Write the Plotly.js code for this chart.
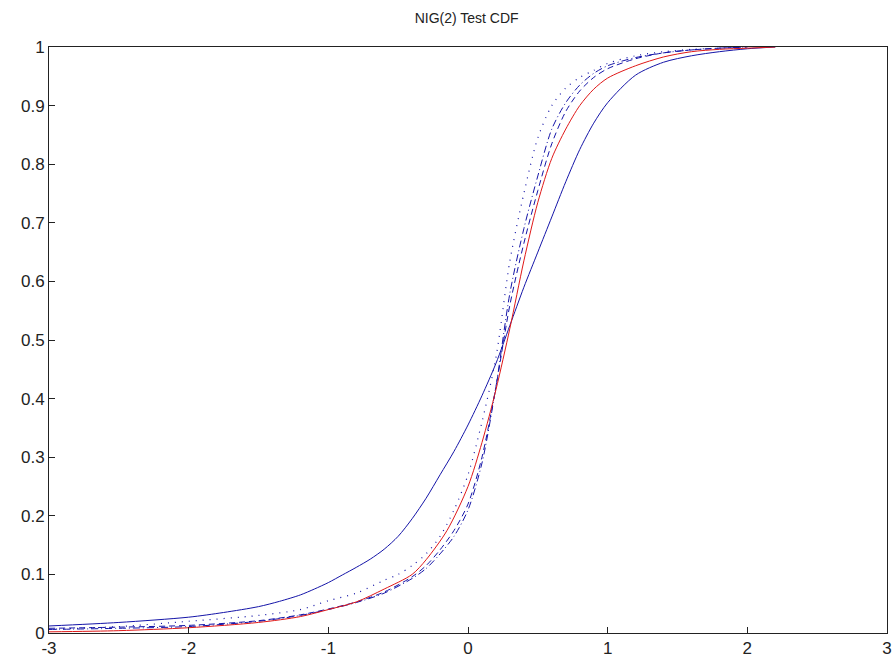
<!DOCTYPE html>
<html>
<head>
<meta charset="utf-8">
<script src="https://cdn.plot.ly/plotly-3.0.1.min.js"></script>
<style>html,body{margin:0;padding:0;background:#fff;}#chart{width:894px;height:666px;}</style>
</head>
<body>
<div id="chart"></div>
<script>
// Blue solid (widest CDF)
const xSolid = [-3, -2.5, -2, -1.75, -1.5, -1.35, -1.2, -1.1, -1, -0.9, -0.8, -0.7, -0.6, -0.5, -0.4, -0.3, -0.2, -0.1, 0, 0.1, 0.2, 0.3, 0.4, 0.5, 0.6, 0.7, 0.8, 0.9, 1.0, 1.2, 1.4, 1.6, 1.8, 2.0, 2.2];
const ySolid = [0.012, 0.018, 0.027, 0.035, 0.045, 0.054, 0.065, 0.075, 0.086, 0.099, 0.112, 0.126, 0.143, 0.165, 0.195, 0.23, 0.27, 0.31, 0.355, 0.405, 0.46, 0.525, 0.59, 0.65, 0.71, 0.77, 0.825, 0.87, 0.905, 0.952, 0.974, 0.985, 0.992, 0.997, 1.0];

// Red solid
const xRed = [-3, -2.5, -2, -1.5, -1.2, -1, -0.8, -0.6, -0.4, -0.3, -0.15, 0, 0.1, 0.2, 0.3, 0.4, 0.5, 0.6, 0.7, 0.8, 0.9, 1.0, 1.2, 1.4, 1.6, 1.8, 2.0, 2.2];
const yRed = [0.002, 0.004, 0.009, 0.018, 0.028, 0.04, 0.053, 0.075, 0.10, 0.125, 0.175, 0.25, 0.325, 0.415, 0.52, 0.635, 0.735, 0.81, 0.86, 0.9, 0.928, 0.947, 0.968, 0.983, 0.992, 0.996, 0.998, 1.0];

// Blue dotted
const xDot = [-3, -2.5, -2, -1.5, -1.2, -1, -0.8, -0.6, -0.5, -0.4, -0.3, -0.2, -0.1, 0, 0.1, 0.2, 0.3, 0.4, 0.5, 0.6, 0.7, 0.8, 0.9, 1.0, 1.2, 1.4, 1.6, 1.8, 2.0];
const yDot = [0.006, 0.011, 0.02, 0.03, 0.04, 0.055, 0.068, 0.09, 0.10, 0.115, 0.135, 0.165, 0.21, 0.27, 0.36, 0.47, 0.635, 0.75, 0.845, 0.9, 0.93, 0.948, 0.96, 0.972, 0.985, 0.992, 0.996, 0.998, 1.0];

// Blue dash-dot
const xDashDot = [-3, -2.5, -2, -1.5, -1.2, -1, -0.8, -0.6, -0.4, -0.3, -0.2, -0.1, 0, 0.1, 0.2, 0.3, 0.4, 0.5, 0.6, 0.7, 0.8, 0.9, 1.0, 1.2, 1.4, 1.6, 1.8, 2.0];
const yDashDot = [0.006, 0.008, 0.011, 0.02, 0.03, 0.04, 0.052, 0.068, 0.093, 0.11, 0.135, 0.165, 0.21, 0.29, 0.42, 0.58, 0.69, 0.78, 0.86, 0.905, 0.935, 0.955, 0.968, 0.982, 0.99, 0.995, 0.998, 1.0];

// Blue dashed
const xDash = [-3, -2.5, -2, -1.5, -1.2, -1, -0.8, -0.6, -0.4, -0.3, -0.2, -0.1, 0, 0.1, 0.2, 0.3, 0.4, 0.5, 0.6, 0.7, 0.8, 0.9, 1.0, 1.2, 1.4, 1.6, 1.8, 2.0];
const yDash = [0.008, 0.01, 0.013, 0.021, 0.031, 0.041, 0.053, 0.07, 0.096, 0.115, 0.142, 0.175, 0.22, 0.30, 0.42, 0.56, 0.665, 0.755, 0.835, 0.89, 0.925, 0.948, 0.963, 0.98, 0.99, 0.995, 0.998, 1.0];

const xTicks = [-3, -2, -1, 0, 1, 2, 3];
const yTicks = [0, 0.1, 0.2, 0.3, 0.4, 0.5, 0.6, 0.7, 0.8, 0.9, 1];

const blue = '#1414a8';
const red = '#e01818';

const traces = [
  {x: xSolid, y: ySolid, mode: 'lines', line: {color: blue, width: 1, shape: 'spline', smoothing: 0.8}},
  {x: xDot, y: yDot, mode: 'lines', line: {color: blue, width: 1.2, dash: '1px,6px', shape: 'spline', smoothing: 0.8}},
  {x: xDashDot, y: yDashDot, mode: 'lines', line: {color: blue, width: 1, dash: '7px,3px,1px,3px', shape: 'spline', smoothing: 0.8}},
  {x: xDash, y: yDash, mode: 'lines', line: {color: blue, width: 1, dash: '6px,4px', shape: 'spline', smoothing: 0.8}},
  {x: xRed, y: yRed, mode: 'lines', line: {color: red, width: 1, shape: 'spline', smoothing: 0.8}}
];

const axisCommon = {
  showgrid: false, zeroline: false, showline: true, mirror: true,
  linecolor: '#222', linewidth: 1, ticks: 'inside', ticklen: 6, tickcolor: '#222',
  tickfont: {family: 'Liberation Sans, Arial, sans-serif', size: 17, color: '#222'}
};

const layout = {
  width: 894, height: 666,
  margin: {l: 49, r: 7, t: 47, b: 33},
  paper_bgcolor: '#fff', plot_bgcolor: '#fff',
  showlegend: false,
  title: {text: 'NIG(2) Test CDF', x: 0.522, xanchor: 'center', y: 0.973, yanchor: 'middle',
          font: {family: 'Liberation Sans, Arial, sans-serif', size: 14, color: '#222'}},
  xaxis: Object.assign({}, axisCommon, {range: [-3, 3], tickvals: xTicks, ticktext: xTicks.map(String), ticklabelstandoff: 0}),
  yaxis: Object.assign({}, axisCommon, {range: [0, 1], tickvals: yTicks, ticktext: yTicks.map(String)})
};

Plotly.newPlot('chart', traces, layout, {displayModeBar: false, staticPlot: true});
</script>
</body>
</html>
